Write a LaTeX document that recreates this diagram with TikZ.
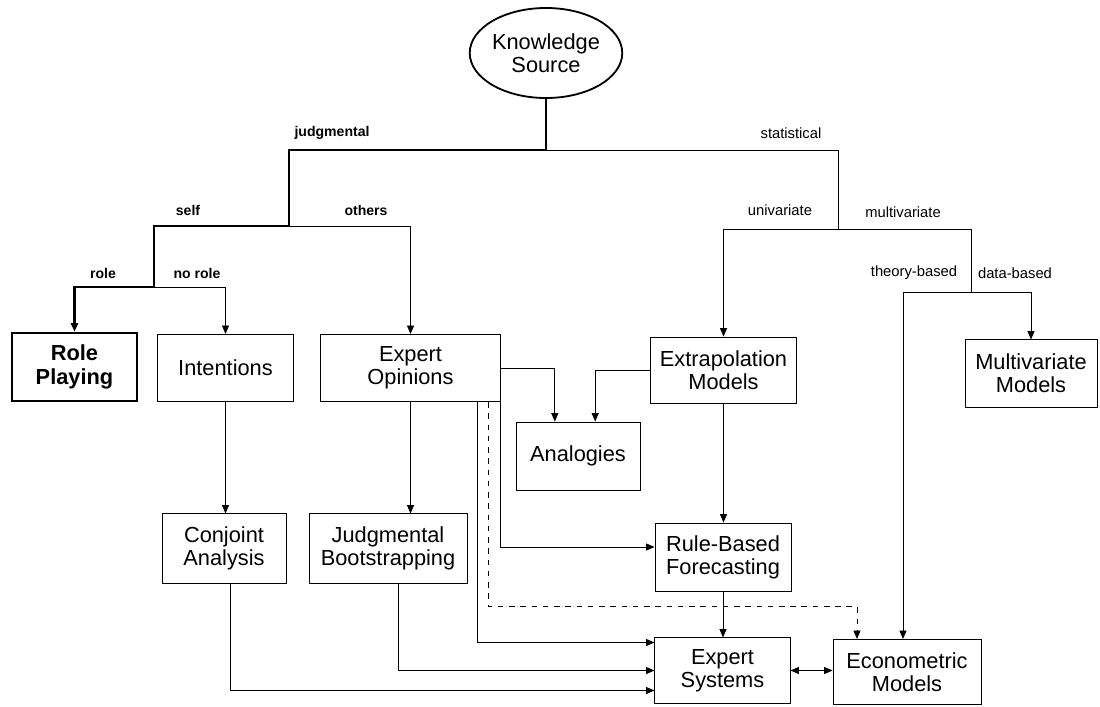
\documentclass[tikz,border=0pt]{standalone}
\usepackage{fontspec}
\setmainfont{Liberation Sans}
\usetikzlibrary{shapes.geometric,arrows.meta}

\tikzset{
  box/.style={draw,line width=0.6pt,inner sep=0pt,align=center,font=\fontsize{15.5}{16.5}\selectfont},
  lbl/.style={font=\fontsize{10.5}{12}\selectfont},
  blbl/.style={font=\fontsize{10}{12}\selectfont\bfseries},
  heavy/.style={line width=1.9pt},
}

\begin{document}
\begin{tikzpicture}[x=0.025cm,y=-0.025cm,line width=0.6pt,>={Triangle[length=6pt,width=5pt]}]
\useasboundingbox (0,0) rectangle (1100,706);

% top
\node[ellipse,draw,line width=1.3pt,minimum width=3.55cm,minimum height=2.25cm,inner sep=0pt,align=center,font=\fontsize{15.5}{16.5}\selectfont] (ks) at (546,53) {Knowledge\\Source};

% boxes
\node[box,heavy,minimum width=3.13cm,minimum height=1.7cm,font=\fontsize{15.5}{16.5}\selectfont\bfseries] (rp) at (74.5,367) {Role\\Playing};
\node[box,minimum width=3.38cm,minimum height=1.68cm] (int) at (225.5,368) {Intentions};
\node[box,minimum width=4.48cm,minimum height=1.68cm] (eo) at (410.5,368) {Expert\\Opinions};
\node[box,minimum width=3.1cm,minimum height=1.7cm] (an) at (578,456) {Analogies};
\node[box,minimum width=3.63cm,minimum height=1.65cm] (ex) at (723.5,370) {Extrapolation\\Models};
\node[box,minimum width=3.3cm,minimum height=1.68cm] (mv) at (1031,373.5) {Multivariate\\Models};
\node[box,minimum width=3.1cm,minimum height=1.73cm] (ca) at (224,548.5) {Conjoint\\Analysis};
\node[box,minimum width=3.95cm,minimum height=1.73cm] (jb) at (388,548.5) {Judgmental\\Bootstrapping};
\node[box,minimum width=3.4cm,minimum height=1.7cm] (rb) at (723,557) {Rule-Based\\Forecasting};
\node[box,minimum width=3.38cm,minimum height=1.63cm] (es) at (722.5,670.5) {Expert\\Systems};
\node[box,minimum width=3.7cm,minimum height=1.63cm] (em) at (907,672) {Econometric\\Models};

% branch points
\coordinate (jdg) at (289,150);
\coordinate (slf) at (289,226);
\coordinate (rol) at (154,287);
\coordinate (sta) at (838,150);
\coordinate (uni) at (838,229);
\coordinate (mul) at (971,292);
\coordinate (thb) at (903,292);

% branch labels
\node[blbl] (ljdg) at (332,133) {judgmental};
\node[blbl] (lslf) at (188,210) {self};
\node[blbl] (loth) at (366,210) {others};
\node[blbl] (lrol) at (103,273) {role};
\node[blbl] (lnor) at (197,273) {no role};
\node[lbl] (lsta) at (791,133) {statistical};
\node[lbl] (luni) at (780,210) {univariate};
\node[lbl] (lmul) at (903,212) {multivariate};
\node[lbl] (lthb) at (914,273) {theory-based};
\node[lbl] (ldat) at (1015,273) {data-based};

% tree
\draw[heavy,->] (ks.south) |- (jdg) -- (slf) -| (rol) -| (rp.north);
\draw[->] (slf) -| (eo.north);
\draw[->] (rol) -| (int.north);
\draw (jdg -| ks.south) -- (sta) -- (uni);
\draw[->] (uni) -| (ex.north);
\draw (uni) -| (mul);
\draw[->] (mul) -| (mv.north);
\draw[->] (mul) -- (thb) -- (thb |- em.north);

% links between methods
\draw[->] (int.south) -- (int.south |- ca.north);
\draw[->] (eo.south) -- (eo.south |- jb.north);
\draw[->] (eo.east) -| ([xshift=-0.58cm]an.north);
\draw[->] (ex.west) -| ([xshift=0.43cm]an.north);
\draw[->] (ex.south) -- (ex.south |- rb.north);
\draw[->] (rb.south) -- (rb.south |- es.north);
\draw[->] (eo.south east) |- ([yshift=0.25cm]rb.west);
\draw[->] ([xshift=-0.58cm]eo.south east) |- ([yshift=0.7cm]es.west);
\draw[->] ([xshift=0.25cm]jb.south) |- (es.west);
\draw[->] ([xshift=0.15cm]ca.south) |- ([yshift=-0.5cm]es.west);
\draw[dashed,dash pattern=on 4pt off 4pt,->] ([xshift=-0.3cm]eo.south east) |- ([xshift=-1.25cm,yshift=0.81cm]em.north) -- ([xshift=-1.25cm]em.north);
\draw[<->] (es.east) -- (es.east -| em.west);
\end{tikzpicture}
\end{document}
